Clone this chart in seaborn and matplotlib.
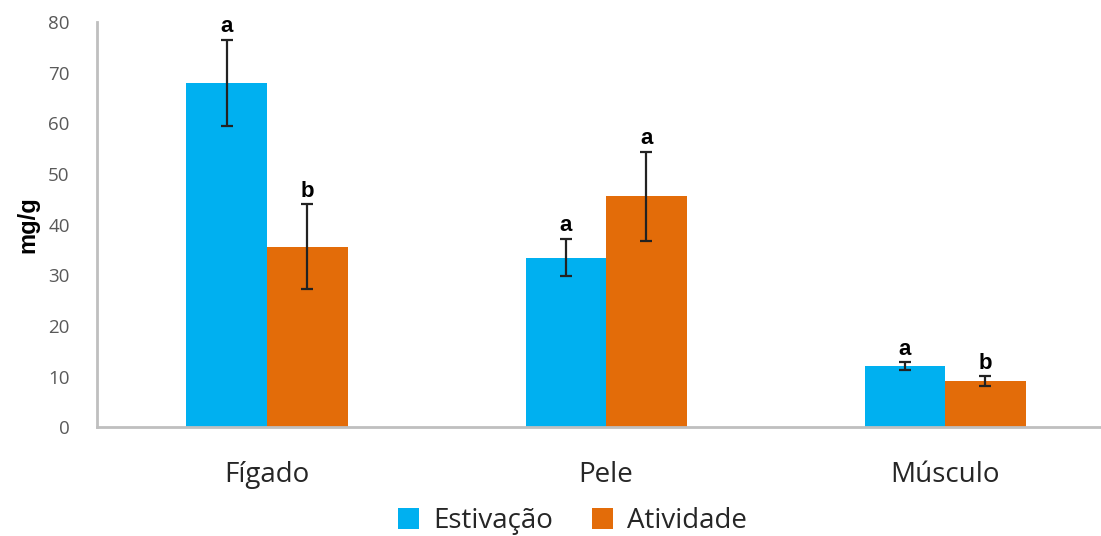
import numpy as np
import pandas as pd
import seaborn as sns
import matplotlib.pyplot as plt
from matplotlib.patches import Patch

tecidos = ["Fígado", "Pele", "Músculo"]
grupos = ["Estivação", "Atividade"]
estivacao = [68.0, 33.5, 12.0]
atividade = [35.6, 45.6, 9.1]
erro_estivacao = [8.5, 3.7, 0.8]
erro_atividade = [8.4, 8.8, 1.0]
letras_estivacao = ["a", "a", "a"]
letras_atividade = ["b", "a", "b"]

cores = {"Estivação": "#00B0F0", "Atividade": "#E36C09"}

df = pd.DataFrame({
    "tecido": tecidos * 2,
    "grupo": [grupos[0]] * 3 + [grupos[1]] * 3,
    "valor": estivacao + atividade,
    "erro": erro_estivacao + erro_atividade,
    "letra": letras_estivacao + letras_atividade,
})

sns.set_theme(style="white")
plt.rcParams["font.family"] = ["Open Sans", "DejaVu Sans"]

fig = plt.figure(figsize=(11.01, 5.36), dpi=100)
ax = fig.add_axes([0.0885, 0.203, 0.924, 0.756])

sns.barplot(data=df, x="tecido", y="valor", hue="grupo", order=tecidos,
            hue_order=grupos, palette=cores, width=0.475, errorbar=None,
            saturation=1, linewidth=0, ax=ax, legend=False)

# error bars and significance letters at each bar centre
for patch, (_, row) in zip(ax.patches, df.iterrows()):
    cx = patch.get_x() + patch.get_width() / 2
    top = patch.get_height()
    ax.errorbar(cx, top, yerr=row["erro"], fmt="none", ecolor="#222222",
                elinewidth=1.6, capsize=4, capthick=1.6)
    ax.text(cx, top + row["erro"] + 0.5, row["letra"], ha="center", va="bottom",
            fontsize=16, fontweight="bold", family="Liberation Sans",
            color="black", clip_on=False)

ax.set_ylim(0, 80)
ax.set_yticks(range(0, 81, 10))
ax.set_xlim(-0.5, 2.5)
ax.tick_params(axis="y", labelsize=13.5, labelcolor="#595959", length=0, pad=20)
ax.tick_params(axis="x", labelsize=20, labelcolor="#262626", length=0, pad=24)
ax.set_xlabel("")
ax.set_ylabel("mg/g", fontsize=17, fontweight="bold", color="black",
              family="Liberation Sans", labelpad=6)

for side in ["top", "right"]:
    ax.spines[side].set_visible(False)
for side in ["left", "bottom"]:
    ax.spines[side].set_color("#BFBFBF")
    ax.spines[side].set_linewidth(2)

handles = [Patch(facecolor=cores[g], edgecolor="none") for g in grupos]
fig.legend(handles, grupos, loc="lower center", bbox_to_anchor=(0.52, -0.045),
           ncol=2, frameon=False, fontsize=20, handlelength=0.75,
           handleheight=0.75, handletextpad=0.5, columnspacing=1.4,
           labelcolor="#262626")

fig.savefig("out.png", dpi=100)
